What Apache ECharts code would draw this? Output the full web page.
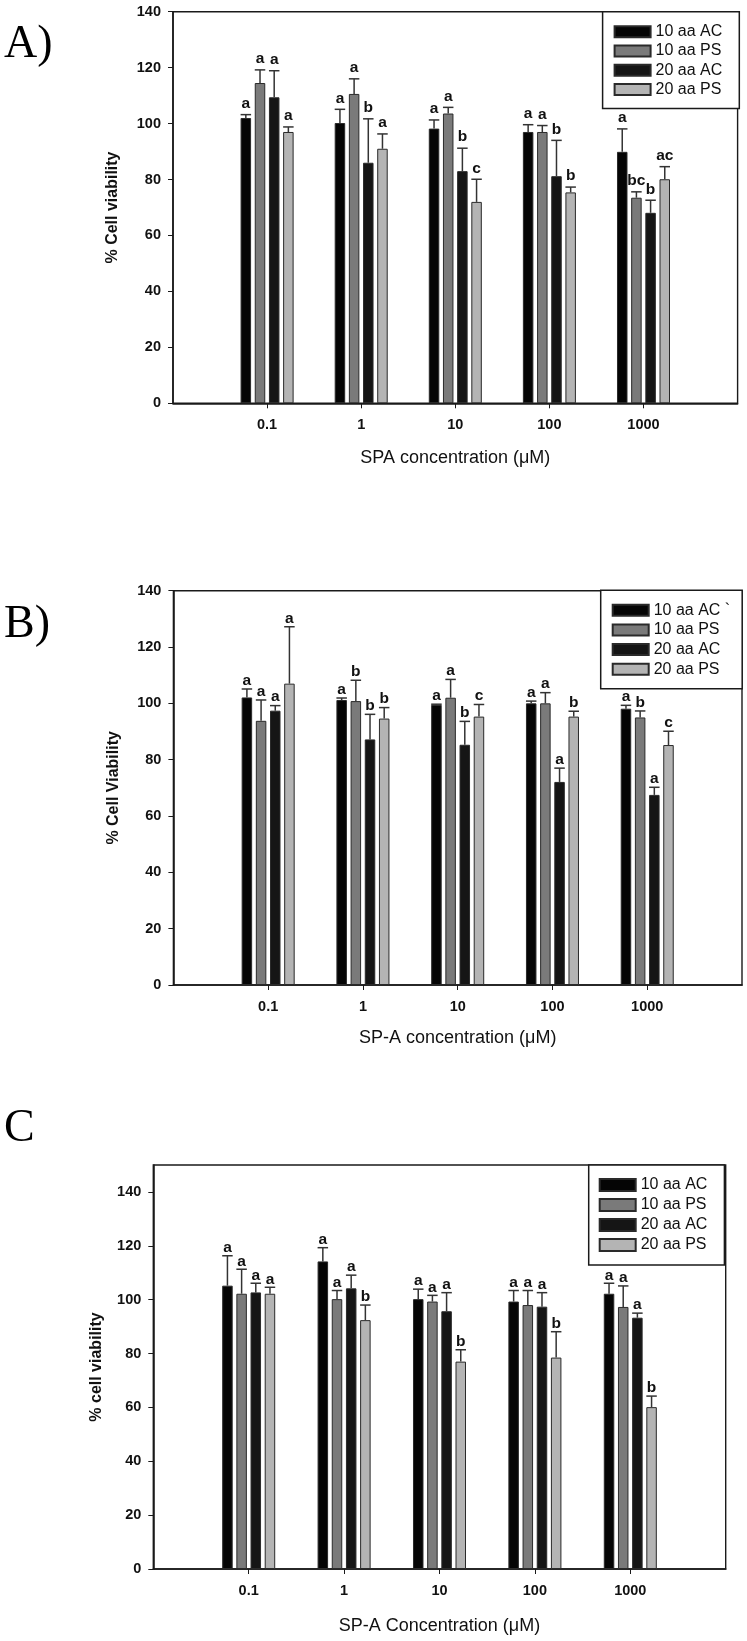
<!DOCTYPE html>
<html>
<head>
<meta charset="utf-8">
<title>Cell viability</title>
<script src="https://cdn.jsdelivr.net/npm/echarts@6/dist/echarts.min.js"></script>
<style>
  html, body { margin: 0; padding: 0; background: #fff; }
  #chart { width: 747px; height: 1641px; }
</style>
</head>
<body>
<div id="chart"></div>
<script>
// categories shared by the three panels
const concentrations = ['0.1', '1', '10', '100', '1000']
const seriesNames = ['10 aa AC', '10 aa PS', '20 aa AC', '20 aa PS']
const seriesNamesB = ['10 aa AC `', '10 aa PS', '20 aa AC', '20 aa PS']
const yTicks = [0, 20, 40, 60, 80, 100, 120, 140]

// panel A  (mean, sd, letters)
const a10AC = [102.0, 100.2, 98.2, 97.0, 89.9]
const a10PS = [114.5, 110.6, 103.6, 97.0, 73.5]
const a20AC = [109.4, 86.0, 83.0, 81.2, 68.1]
const a20PS = [97.0, 91.0, 72.0, 75.4, 80.1]
const a10ACsd = [1.2, 4.9, 3.1, 2.6, 8.2]
const a10PSsd = [4.7, 5.4, 2.2, 2.3, 2.1]
const a20ACsd = [9.5, 15.7, 8.2, 12.8, 4.5]
const a20PSsd = [1.8, 5.3, 8.1, 1.9, 4.5]
const a10ACsig = ['a', 'a', 'a', 'a', 'a']
const a10PSsig = ['a', 'a', 'a', 'a', 'bc']
const a20ACsig = ['a', 'b', 'b', 'b', 'b']
const a20PSsig = ['a', 'a', 'c', 'b', 'ac']

// panel B
const b10AC = [102.1, 101.2, 99.5, 100.0, 98.1]
const b10PS = [93.8, 100.8, 102.0, 100.0, 95.0]
const b20AC = [97.4, 87.2, 85.3, 72.1, 67.5]
const b20PS = [107.0, 94.6, 95.3, 95.3, 85.2]
const b10ACsd = [3.0, 0.7, 0.2, 0.8, 1.2]
const b10PSsd = [7.4, 7.4, 6.5, 3.8, 2.3]
const b20ACsd = [1.8, 8.9, 8.3, 4.9, 2.7]
const b20PSsd = [20.2, 3.9, 4.3, 1.9, 4.9]
const b10ACsig = ['a', 'a', 'a', 'a', 'a']
const b10PSsig = ['a', 'b', 'a', 'a', 'b']
const b20ACsig = ['a', 'b', 'b', 'a', 'a']
const b20PSsig = ['a', 'b', 'c', 'b', 'c']

// panel C
const c10AC = [105.2, 114.2, 100.2, 99.3, 102.2]
const c10PS = [102.2, 100.2, 99.3, 98.0, 97.3]
const c20AC = [102.7, 104.2, 95.7, 97.4, 93.3]
const c20PS = [102.2, 92.4, 77.0, 78.5, 60.1]
const c10ACsd = [11.1, 5.1, 3.7, 4.1, 3.9]
const c10PSsd = [9.1, 3.2, 2.3, 5.4, 7.8]
const c20ACsd = [3.4, 4.9, 6.9, 5.2, 1.7]
const c20PSsd = [2.4, 5.6, 4.4, 9.6, 4.1]
const c10ACsig = ['a', 'a', 'a', 'a', 'a']
const c10PSsig = ['a', 'a', 'a', 'a', 'a']
const c20ACsig = ['a', 'a', 'a', 'a', 'a']
const c20PSsig = ['a', 'b', 'b', 'b', 'b']

const panels = [
  {
    tag: 'A)', names: seriesNames, yMax: 140,
    yName: '% Cell viability', xName: 'SPA concentration (μM)',
    means: [a10AC, a10PS, a20AC, a20PS],
    sds: [a10ACsd, a10PSsd, a20ACsd, a20PSsd],
    sigs: [a10ACsig, a10PSsig, a20ACsig, a20PSsig]
  },
  {
    tag: 'B)', names: seriesNamesB, yMax: 140,
    yName: '% Cell Viability', xName: 'SP-A concentration (μM)',
    means: [b10AC, b10PS, b20AC, b20PS],
    sds: [b10ACsd, b10PSsd, b20ACsd, b20PSsd],
    sigs: [b10ACsig, b10PSsig, b20ACsig, b20PSsig]
  },
  {
    tag: 'C', names: seriesNames, yMax: 150,
    yName: '% cell viability', xName: 'SP-A Concentration (μM)',
    means: [c10AC, c10PS, c20AC, c20PS],
    sds: [c10ACsd, c10PSsd, c20ACsd, c20PSsd],
    sigs: [c10ACsig, c10PSsig, c20ACsig, c20PSsig]
  }
]

// where each panel sits on the page
const layouts = [
  { left: 173, top: 11.7, width: 564.6, height: 391.6, yNameGap: 52, xNameGap: 46, sigGap: 11,
    legend: { left: 602.6, top: 11.7, padding: [12, 17, 11, 11], itemHeight: 11, itemGap: 3.3 },
    tagY: 47 },
  { left: 173.4, top: 590.7, width: 568.6, height: 394.3, yNameGap: 52, xNameGap: 44, sigGap: 8.5,
    legend: { left: 600.7, top: 590.2, padding: [12, 12, 11.5, 11], itemHeight: 11, itemGap: 3.7 },
    tagY: 627 },
  { left: 153.3, top: 1165, width: 572.4, height: 404, yNameGap: 49, xNameGap: 48, sigGap: 8,
    legend: { left: 588.7, top: 1165, padding: [12, 17, 12, 10], itemHeight: 12, itemGap: 4 },
    tagY: 1131 }
]

const colors = ['#050505', '#7a7a7a', '#151515', '#b4b4b4']
const font = 'Liberation Sans, Arial, sans-serif'
const barWidth = 10.5
const barGap = 0.35
const pitch = barWidth * (1 + barGap)

const chart = echarts.init(document.getElementById('chart'))

const grid = []
const xAxis = []
const yAxis = []
const legend = []
const series = []
const graphic = []

panels.forEach((p, k) => {
  const L = layouts[k]
  grid.push({
    left: L.left, top: L.top, width: L.width, height: L.height,
    show: true, borderColor: '#1a1a1a', borderWidth: 1.4
  })
  xAxis.push({
    gridIndex: k,
    type: 'category',
    data: [''].concat(concentrations, ['']),
    boundaryGap: false,
    axisLine: { lineStyle: { color: '#1a1a1a', width: 1.6 } },
    axisTick: { length: 5, interval: (i) => i > 0 && i < 6, lineStyle: { color: '#1a1a1a' } },
    axisLabel: { interval: 0, margin: 14, fontSize: 14.5, fontWeight: 'bold', color: '#111', fontFamily: font },
    splitLine: { show: false },
    name: p.xName,
    nameLocation: 'middle',
    nameGap: L.xNameGap,
    nameTextStyle: { fontSize: 18, color: '#111', fontFamily: font }
  })
  yAxis.push({
    gridIndex: k,
    type: 'value',
    min: 0,
    max: p.yMax,
    interval: 20,
    axisLine: { show: true, lineStyle: { color: '#1a1a1a', width: 1.6 } },
    axisTick: { show: true, length: 5, customValues: yTicks, lineStyle: { color: '#1a1a1a' } },
    axisLabel: { customValues: yTicks, margin: 12, fontSize: 14.5, fontWeight: 'bold', color: '#111', fontFamily: font },
    splitLine: { show: false },
    name: p.yName,
    nameLocation: 'middle',
    nameRotate: 90,
    nameGap: L.yNameGap,
    nameTextStyle: { fontSize: 16, fontWeight: 'bold', color: '#111', fontFamily: font }
  })
  legend.push({
    orient: 'vertical',
    left: L.legend.left,
    top: L.legend.top,
    padding: L.legend.padding,
    itemWidth: 36,
    itemHeight: L.legend.itemHeight,
    itemGap: L.legend.itemGap,
    borderColor: '#1a1a1a',
    borderWidth: 1.5,
    backgroundColor: '#fff',
    icon: 'rect',
    selectedMode: false,
    data: p.names,
    textStyle: { fontSize: 16, color: '#111', fontFamily: font }
  })

  p.names.forEach((name, i) => {
    series.push({
      name,
      type: 'bar',
      xAxisIndex: k,
      yAxisIndex: k,
      barWidth,
      barGap: barGap * 100 + '%',
      itemStyle: { color: colors[i], borderColor: '#2a2a2a', borderWidth: 1 },
      data: p.means[i].map((v, j) => [j + 1, v])
    })
  })

  // error bars and significance letters
  p.names.forEach((name, i) => {
    const offset = (i - 1.5) * pitch
    const letters = p.sigs[i]
    series.push({
      type: 'custom',
      xAxisIndex: k,
      yAxisIndex: k,
      z: 3,
      silent: true,
      data: p.means[i].map((v, j) => [j + 1, v, v + p.sds[i][j]]),
      renderItem(params, api) {
        const base = api.coord([api.value(0), api.value(1)])
        const top = api.coord([api.value(0), api.value(2)])
        const x = base[0] + offset
        const line = { stroke: '#333', lineWidth: 1.5 }
        return {
          type: 'group',
          children: [
            { type: 'line', shape: { x1: x, y1: base[1], x2: x, y2: top[1] }, style: line },
            { type: 'line', shape: { x1: x - barWidth / 2, y1: top[1], x2: x + barWidth / 2, y2: top[1] }, style: line },
            {
              type: 'text',
              style: {
                x: x, y: top[1] - L.sigGap, text: letters[params.dataIndex],
                align: 'center', verticalAlign: 'middle',
                font: 'bold 15.5px ' + font, fill: '#111'
              }
            }
          ]
        }
      }
    })
  })

  graphic.push({
    type: 'text',
    left: 4,
    top: L.tagY - 25,
    style: { text: p.tag, font: '46px "Liberation Serif", "Times New Roman", serif', fill: '#000' }
  })
})

chart.setOption({
  animation: false,
  backgroundColor: '#fff',
  grid,
  xAxis,
  yAxis,
  legend,
  series,
  graphic
})
</script>
</body>
</html>
